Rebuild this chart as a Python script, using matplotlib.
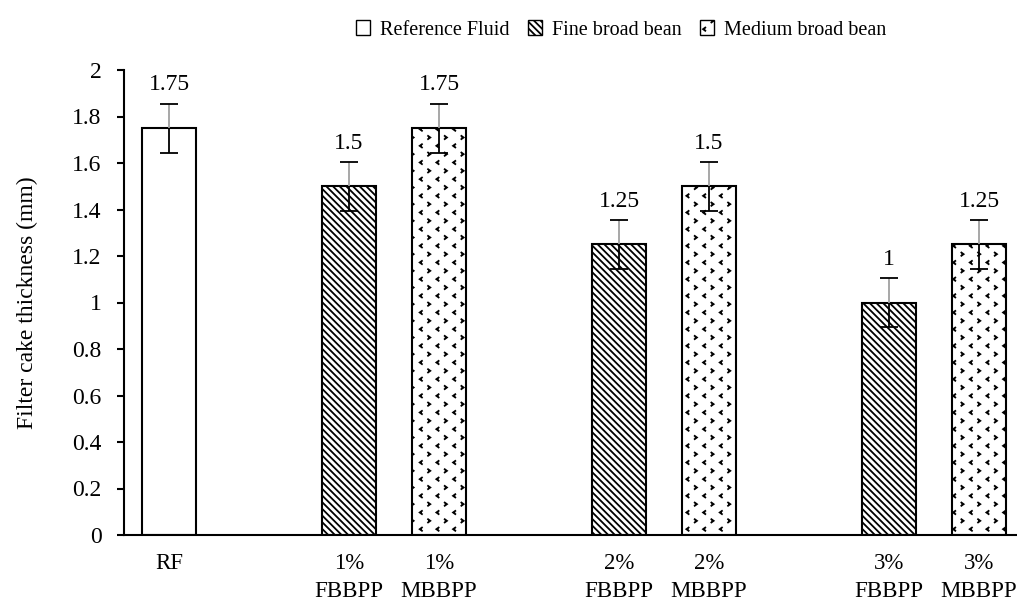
import matplotlib
matplotlib.use("Agg")
import matplotlib.pyplot as plt
from matplotlib.patches import Patch
from matplotlib.path import Path
import matplotlib.hatch as mhatch
import numpy as np

plt.rcParams['font.family'] = ['Liberation Serif', 'DejaVu Serif']
plt.rcParams['hatch.linewidth'] = 1.3
plt.rcParams['hatch.color'] = 'black'

# ---- data ----
ref_label = "RF"
ref_value = 1.75
ref_err = 0.105
concentrations = ["1%", "2%", "3%"]
fine_values = [1.5, 1.25, 1.0]
medium_values = [1.75, 1.5, 1.25]
fine_err = [0.105, 0.105, 0.105]
medium_err = [0.105, 0.105, 0.105]
fine_code = "FBBPP"
medium_code = "MBBPP"
legend_labels = ["Reference Fluid", "Fine broad bean", "Medium broad bean"]
yticks = [0, 0.2, 0.4, 0.6, 0.8, 1, 1.2, 1.4, 1.6, 1.8, 2]


# ---- custom sparse chevron hatch (used for the '*' hatch character) ----
class Chevrons(mhatch.HatchPatternBase):
    ncols = 6
    nrows = 12

    def __init__(self, hatch, density):
        self.on = hatch.count('*') > 0
        self.num_vertices = self.ncols * self.nrows * 3 if self.on else 0

    def set_vertices_and_codes(self, vertices, codes):
        k = 0
        sx, sy = 0.011, 0.016
        for i in range(self.nrows):
            y = (i + 0.5) / self.nrows
            shift = 0.25 if i % 2 == 0 else 0.75
            d = 1 if i % 2 == 0 else -1
            for j in range(self.ncols):
                x = (j + shift) / self.ncols
                vertices[k] = (x + d * sx, y + sy)
                vertices[k + 1] = (x - d * sx, y)
                vertices[k + 2] = (x + d * sx, y - sy)
                codes[k] = Path.MOVETO
                codes[k + 1] = Path.LINETO
                codes[k + 2] = Path.LINETO
                k += 3


mhatch._hatch_types = [t for t in mhatch._hatch_types if t is not mhatch.Stars] + [Chevrons]

FINE_HATCH = '\\\\\\\\\\'
MED_HATCH = '*'

# ---- layout ----
fig = plt.figure(figsize=(10.17, 6.03), dpi=100)
ax = fig.add_axes([124 / 1017, 68 / 603, 900 / 1017, 465 / 603])

n = len(concentrations)
x_ref = 0
x_fine = np.array([3 * (i + 1) - 1 for i in range(n)])
x_med = x_fine + 1
w = 0.61
ew = 1.5
FS = 17

ax.bar(x_ref, ref_value, width=w, color='white', edgecolor='black', linewidth=ew, zorder=2)
ax.bar(x_fine, fine_values, width=w, color='white', edgecolor='black', linewidth=ew,
       hatch=FINE_HATCH, zorder=2)
ax.bar(x_med, medium_values, width=w, color='white', edgecolor='black', linewidth=ew,
       hatch=MED_HATCH, zorder=2)

xs = np.concatenate([[x_ref], x_fine, x_med])
vals = np.concatenate([[ref_value], fine_values, medium_values])
errs = np.concatenate([[ref_err], fine_err, medium_err])

# error bars: grey line above the bar, black inside, black caps
ax.vlines(xs, vals, vals + errs, color='#a0a0a0', linewidth=1.3, zorder=3)
ax.vlines(xs, vals - errs, vals, color='black', linewidth=1.3, zorder=3)
cap = 0.1
ax.hlines(vals + errs, xs - cap, xs + cap, color='black', linewidth=1.3, zorder=3)
ax.hlines(vals - errs, xs - cap, xs + cap, color='black', linewidth=1.3, zorder=3)

for x, v, e in zip(xs, vals, errs):
    ax.annotate(f"{v:g}", (x, v + e), xytext=(0, 6), textcoords='offset points',
                ha='center', va='bottom', fontsize=FS)

ax.set_xlim(-0.5, 9.5)
ax.set_ylim(0, 2)
ax.set_yticks(yticks)
ax.set_yticklabels([f"{t:g}" for t in yticks], fontsize=FS)
ticks_x = [x_ref] + [p for pair in zip(x_fine, x_med) for p in pair]
labels_x = [ref_label] + [s for c in concentrations
                          for s in (f"{c}\n{fine_code}", f"{c}\n{medium_code}")]
ax.set_xticks(ticks_x)
ax.set_xticklabels(labels_x, fontsize=16.5, linespacing=1.45)
ax.tick_params(axis='x', length=0, pad=13)
ax.tick_params(axis='y', length=5, width=1.5, direction='out', pad=11)
for s in ['top', 'right']:
    ax.spines[s].set_visible(False)
ax.spines['left'].set_linewidth(1.5)
ax.spines['bottom'].set_linewidth(1.5)
ax.set_ylabel("Filter cake thickness (mm)", fontsize=FS, va='center')
ax.yaxis.set_label_coords(-97 / 900, 0.5)

handles = [
    Patch(facecolor='white', edgecolor='black', linewidth=1.0),
    Patch(facecolor='white', edgecolor='black', linewidth=1.0, hatch=FINE_HATCH),
    Patch(facecolor='white', edgecolor='black', linewidth=1.0, hatch=MED_HATCH),
]
fig.legend(handles, legend_labels, loc='center', bbox_to_anchor=(621 / 1017, 1 - 30 / 603),
           ncol=3, frameon=False, fontsize=14.5, handlelength=0.7, handleheight=0.7,
           handletextpad=0.5, columnspacing=0.9)

fig.savefig("out.png", dpi=100)
